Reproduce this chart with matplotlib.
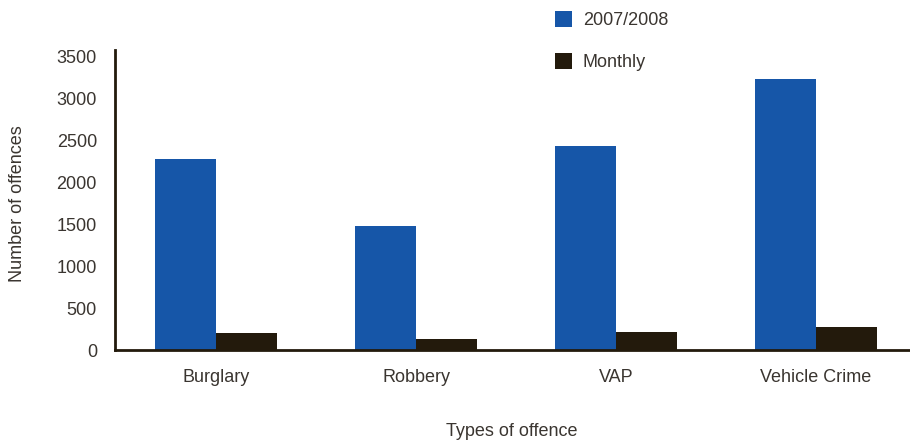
import matplotlib
matplotlib.use("Agg")
import matplotlib.pyplot as plt
import numpy as np

categories = ["Burglary", "Robbery", "VAP", "Vehicle Crime"]
annual = [2285, 1480, 2430, 3230]
monthly = [200, 128, 210, 280]
yticks = [0, 500, 1000, 1500, 2000, 2500, 3000, 3500]

blue = "#1656a8"
dark = "#231a0c"
txt = "#3a3530"

plt.rcParams['font.family'] = ['Liberation Sans', 'DejaVu Sans']

fig = plt.figure(figsize=(9.1, 4.44), dpi=100)
ax = fig.add_axes([115/910, 1 - 350/444, (910 - 115)/910, (350 - 50)/444])

x = np.arange(len(categories))
w = 0.305
ax.bar(x - w/2, annual, w, color=blue, label="2007/2008")
ax.bar(x + w/2, monthly, w, color=dark, label="Monthly")

ax.set_xlim(-0.505, 3.47)
ax.set_ylim(0, 3500 * 300 / 293.3)
ax.set_yticks(yticks)
ax.set_yticklabels([str(v) for v in yticks], fontsize=13, color=txt)
ax.set_xticks(x)
ax.set_xticklabels(categories, fontsize=13, color=txt)
ax.tick_params(axis='both', length=0)
ax.tick_params(axis='y', pad=13)
ax.tick_params(axis='x', pad=14)

for s in ['top', 'right']:
    ax.spines[s].set_visible(False)
for s in ['left', 'bottom']:
    ax.spines[s].set_color(dark)
    ax.spines[s].set_linewidth(2)

fig.text(512/910, 1 - 431/444, "Types of offence", ha='center', va='center', fontsize=13, color=txt)
fig.text(18/910, 1 - 204/444, "Number of offences", ha='center', va='center', rotation=90, fontsize=13, color=txt)

ax.legend(loc='upper left', bbox_to_anchor=(555/910, 1 - 11.5/444), bbox_transform=fig.transFigure,
          frameon=False, fontsize=13, handlelength=0.95, handleheight=0.95, labelspacing=1.3,
          handletextpad=0.6, labelcolor=txt, borderaxespad=0, borderpad=0)

fig.savefig("out.png", dpi=100)
